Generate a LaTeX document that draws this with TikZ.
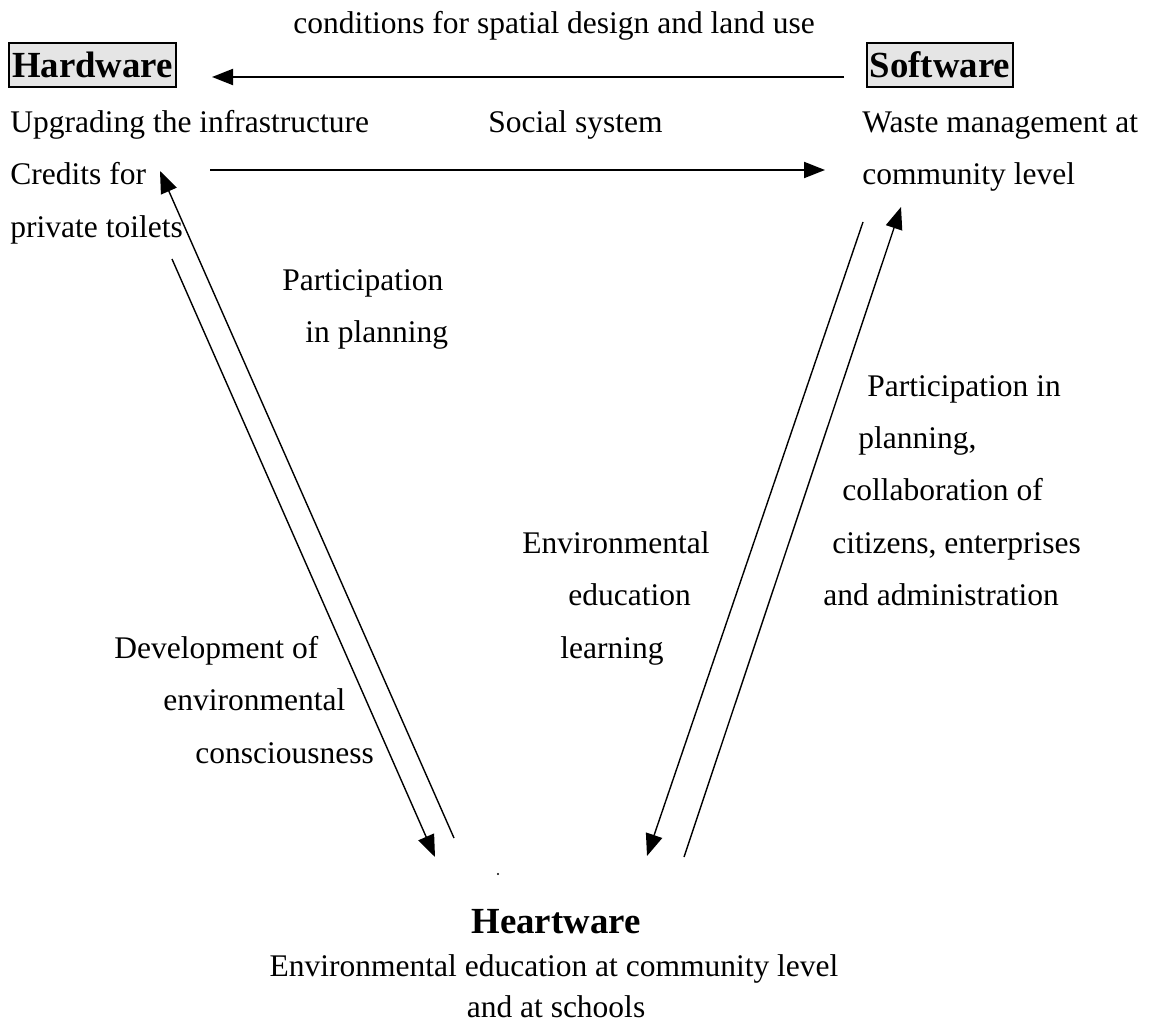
\documentclass[tikz,border=0pt]{standalone}
\usepackage{fontspec}
\setmainfont{Liberation Serif}
\usetikzlibrary{arrows.meta}

\tikzset{
  lbl/.style={anchor=base west, inner sep=0pt, font=\fontsize{15.75}{18}\selectfont},
  clbl/.style={anchor=base, inner sep=0pt, font=\fontsize{15.75}{18}\selectfont},
  ware/.style={draw, line width=1pt, fill=gray!20, inner xsep=1pt, inner ysep=2pt,
    minimum height=22pt, font=\fontsize{18.4}{20}\selectfont\bfseries},
  flow/.style={line width=1pt, -{Triangle[length=10.5pt,width=8pt]}},
  link/.style={line width=0.7pt, -{Triangle[length=11pt,width=8.5pt]}},
}

\begin{document}
\begin{tikzpicture}[x=0.5pt,y=-0.5pt]
\useasboundingbox (0,0) rectangle (1149,1021);

% the three wares
\node[ware, minimum width=83.5pt] (hw) at (92.5,65) {Hardware};
\node[ware, minimum width=73pt] (sw) at (940,65) {Software};
\node[clbl, font=\fontsize{18.4}{20}\selectfont\bfseries] (hrt) at (556,933) {Heartware};
\node[circle, fill, inner sep=0.4pt] (hrt-dot) at (498,874) {};

% texts
\node[clbl] (cond) at (554,34) {conditions for spatial design and land use};
\node[lbl] (hw-1) at (10,133) {Upgrading the infrastructure};
\node[lbl] (hw-2) at (10,185) {Credits for};
\node[lbl] (hw-3) at (10,238) {private toilets};
\node[lbl] (soc) at (488,133) {Social system};
\node[lbl] (sw-1) at (862,133) {Waste management at};
\node[lbl] (sw-2) at (862,185) {community level};
\node[lbl] (pp-1) at (282,291) {Participation};
\node[lbl] (pp-2) at (305,343) {in planning};
\node[lbl] (pc-1) at (867,396) {Participation in};
\node[lbl] (pc-2) at (858,448) {planning,};
\node[lbl] (pc-3) at (842,500) {collaboration of};
\node[lbl] (pc-4) at (832,553) {citizens, enterprises};
\node[lbl] (pc-5) at (823,605) {and administration};
\node[lbl] (ee-1) at (522,553) {Environmental};
\node[lbl] (ee-2) at (568,605) {education};
\node[lbl] (ee-3) at (560,658) {learning};
\node[lbl] (dv-1) at (114,658) {Development of};
\node[lbl] (dv-2) at (163,710) {environmental};
\node[lbl] (dv-3) at (195,763) {consciousness};
\node[clbl] (hrt-1) at (554,976) {Environmental education at community level};
\node[clbl] (hrt-2) at (556,1017) {and at schools};

% arrow ends
\coordinate (soc-a) at (210,170);
\coordinate (soc-b) at (825,170);
\coordinate (l-up-a) at (454,838);
\coordinate (l-up-b) at (160,171);
\coordinate (l-dn-a) at (172,259);
\coordinate (l-dn-b) at (435,857);
\coordinate (r-up-a) at (684,857);
\coordinate (r-up-b) at (901,207);
\coordinate (r-dn-a) at (863,222);
\coordinate (r-dn-b) at (647,856);

% arrows
\draw[flow, shorten <=11pt, shorten >=17.5pt] ([yshift=-6pt]sw.west) -- ([yshift=-6pt]hw.east);
\draw[flow] (soc-a) -- (soc-b);
\draw[link] (l-up-a) -- (l-up-b);
\draw[link] (l-dn-a) -- (l-dn-b);
\draw[link] (r-up-a) -- (r-up-b);
\draw[link] (r-dn-a) -- (r-dn-b);
\end{tikzpicture}
\end{document}
